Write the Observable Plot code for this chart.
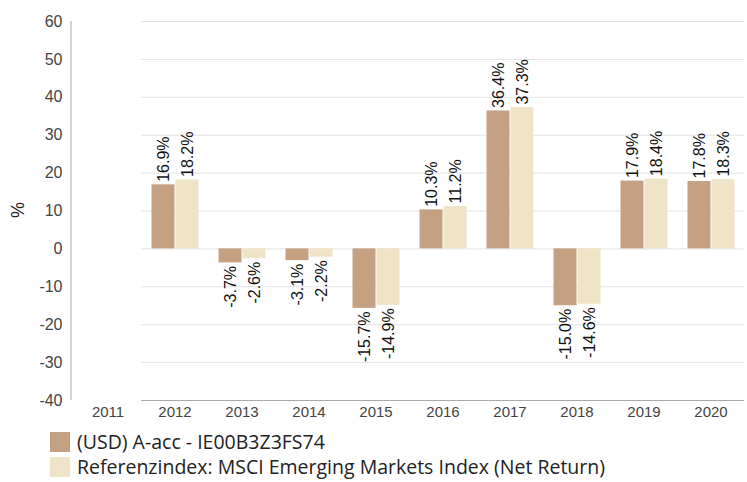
<!DOCTYPE html>
<html>
<head>
<meta charset="utf-8">
<script src="https://cdn.jsdelivr.net/npm/d3@7"></script>
<script src="https://cdn.jsdelivr.net/npm/@observablehq/plot@0.6"></script>
<style>
  body { margin: 0; background: #fff; }
  #legend { font-family: "Open Sans", "Noto Sans", sans-serif; font-size: 19.5px; color: #222; margin-left: 50px; margin-top: 1px; }
  .row { display: flex; align-items: center; height: 25px; white-space: nowrap; }
  .sw { width: 20px; height: 20px; margin-right: 7px; flex: none; }
</style>
</head>
<body>
<div id="chart"></div>
<div id="legend"></div>
<script>
const years = ["2011","2012","2013","2014","2015","2016","2017","2018","2019","2020"];
const seriesNames = ["(USD) A-acc - IE00B3Z3FS74", "Referenzindex: MSCI Emerging Markets Index (Net Return)"];
const fundValues = [null, 16.9, -3.7, -3.1, -15.7, 10.3, 36.4, -15.0, 17.9, 17.8];
const indexValues = [null, 18.2, -2.6, -2.2, -14.9, 11.2, 37.3, -14.6, 18.4, 18.3];
const colors = ["#c4a182", "#efe4c8"];
const yTicks = [-40, -30, -20, -10, 0, 10, 20, 30, 40, 50, 60];

const data = [];
years.forEach((yr, i) => {
  if (fundValues[i] != null) data.push({year: yr, series: seriesNames[0], value: fundValues[i]});
  if (indexValues[i] != null) data.push({year: yr, series: seriesNames[1], value: indexValues[i]});
});
const fmt = v => v.toFixed(1) + "%";

const chart = Plot.plot({
  width: 747,
  height: 428,
  marginLeft: 71,
  marginRight: 0,
  marginTop: 21,
  marginBottom: 28,
  style: {fontFamily: "Liberation Sans, Arial, sans-serif", fontSize: "15px", color: "#444", background: "#fff"},
  fx: {domain: years, padding: 0, label: null, axis: "bottom", tickSize: 0, tickPadding: 6},
  x: {domain: seriesNames, axis: null, paddingInner: 0, paddingOuter: 0.352},
  y: {domain: [-40, 60], ticks: yTicks},
  color: {domain: seriesNames, range: colors},
  marks: [
    Plot.gridY(yTicks, {stroke: "#e3e3e3", strokeOpacity: 1}),
    Plot.axisY(yTicks, {tickSize: 0, tickPadding: 8, dx: -71, fontSize: 16, label: null, tickFormat: d => String(d)}),
    Plot.ruleY([-40], {stroke: "#aaa"}),
    Plot.barY(data, {fx: "year", x: "series", y: "value", fill: "series", insetLeft: 0.5, insetRight: 0.5}),
    Plot.text(data.filter(d => d.value >= 0), {fx: "year", x: "series", y: "value", text: d => fmt(d.value), rotate: -90, textAnchor: "start", dy: -3, fontSize: 16, fill: "#111"}),
    Plot.text(data.filter(d => d.value < 0), {fx: "year", x: "series", y: "value", text: d => fmt(d.value), rotate: -90, textAnchor: "end", dy: 3, fontSize: 16, fill: "#111"})
  ]
});
document.getElementById("chart").appendChild(chart);

const svg = d3.select(chart);
// y-axis title and left axis line
svg.append("text").attr("transform", "translate(18,210) rotate(-90)").attr("text-anchor", "middle")
  .attr("dy", "0.35em").attr("font-size", 18).attr("fill", "#222").text("%");
svg.append("line").attr("x1", 71).attr("x2", 71).attr("y1", 21).attr("y2", 400).attr("stroke", "#aaa");

const legend = document.getElementById("legend");
seriesNames.forEach((name, i) => {
  const row = document.createElement("div");
  row.className = "row";
  const sw = document.createElement("div");
  sw.className = "sw";
  sw.style.background = colors[i];
  const t = document.createElement("span");
  t.textContent = name;
  row.appendChild(sw); row.appendChild(t);
  legend.appendChild(row);
});
</script>
</body>
</html>
